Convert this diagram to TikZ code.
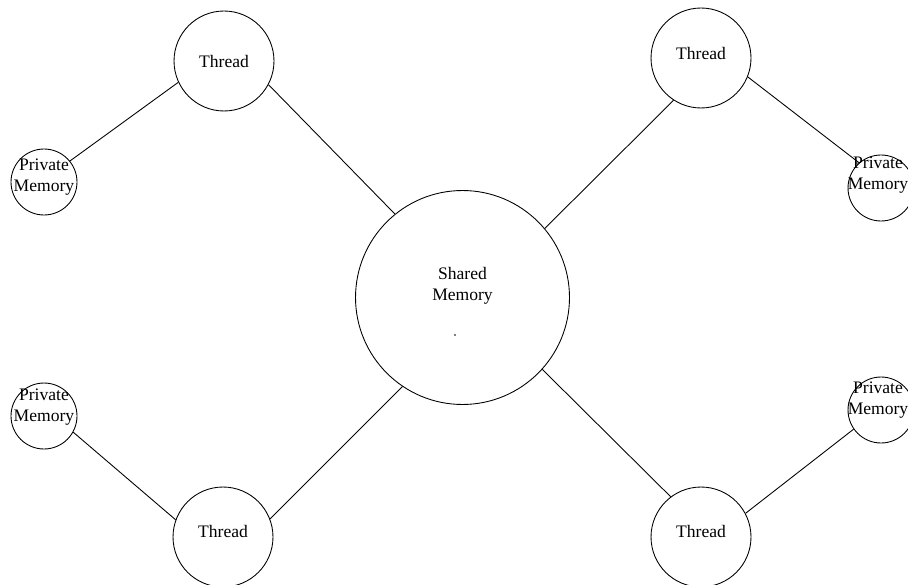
\documentclass[tikz,border=0pt]{standalone}
\usepackage{fontspec}
\setmainfont{Liberation Serif}
\tikzset{
  thread/.style={draw, circle, line width=0.5pt, minimum size=2cm, inner sep=0pt},
  shmem/.style={draw, circle, line width=0.5pt, minimum size=4.28cm, inner sep=0pt},
  pmem/.style={draw, circle, line width=0.5pt, minimum size=1.32cm, inner sep=0pt},
  every label/.style={align=center, inner sep=0pt, font=\fontsize{10}{12}\selectfont},
  link/.style={line width=0.5pt}
}
\begin{document}
\begin{tikzpicture}[x=0.02cm, y=-0.02cm]
	%%%%% START %%%%%
	\clip (0,0) rectangle (908,584);
	
	\node[shmem, label={[yshift=0.24cm]center:Shared\\Memory}] (shared) at (462.5,297.5) {};
	\fill (455,335) circle (0.5pt);
	
	\node[thread, label={center:Thread}] (tl) at (224,61) {};
	\node[thread, label={[yshift=0.1cm]center:Thread}] (tr) at (701,58) {};
	\node[thread, label={[yshift=0.12cm]center:Thread}] (bl) at (223,537) {};
	\node[thread, label={[yshift=0.12cm]center:Thread}] (br) at (701,537) {};
	
	\node[pmem, label={[yshift=0.1cm]center:Private\\Memory}] (ptl) at (44,182) {};
	\node[pmem, label={[yshift=0.18cm]center:Private\\Memory}] (pbl) at (44,416) {};
	\node[pmem, label={[yshift=0.26cm, xshift=-0.06cm]center:Private\\Memory}] (ptr) at (881,188) {};
	\node[pmem, label={[yshift=0.2cm, xshift=-0.06cm]center:Private\\Memory}] (pbr) at (881,410) {};
	
	\draw[link] (tl.205) -- (ptl.39);
	\draw[link] (tl.332) -- (shared.129);
	\draw[link] (tr.237) -- (shared.40);
	\draw[link] (tr.338) -- (ptr.131);
	\draw[link] (bl.21) -- (shared.236);
	\draw[link] (bl.160) -- (pbl.331);
	\draw[link] (br.127) -- (shared.318);
	\draw[link] (br.28) -- (pbr.215);
	
	%%%%% END %%%%%
\end{tikzpicture}
\end{document}
